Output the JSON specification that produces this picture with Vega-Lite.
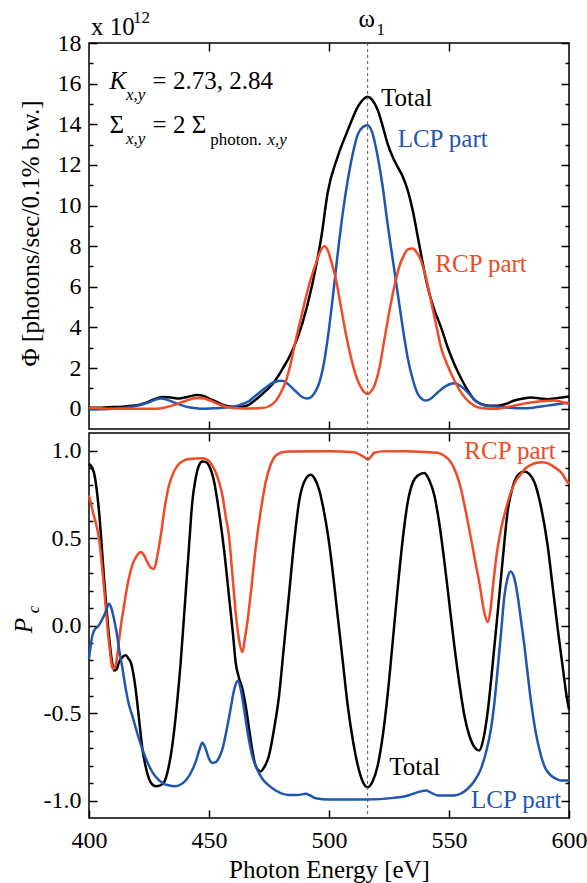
{
  "$schema": "https://vega.github.io/schema/vega-lite/v6.json",
  "padding": {"left": 10, "top": 6, "right": 0, "bottom": 0},
  "background": "white",
  "config": {
    "font": "Liberation Serif",
    "view": {"stroke": "black", "strokeWidth": 1.5},
    "concat": {"spacing": 0},
    "style": {"guide-label": {"font": "Liberation Serif", "fontSize": 24, "fill": "black"}, "guide-title": {"font": "Liberation Serif", "fontSize": 25, "fontWeight": "normal", "fill": "black"}},
    "axis": {"domain": false, "grid": false, "labelFont": "Liberation Serif", "titleFont": "Liberation Serif", "labelFontSize": 24, "titleFontSize": 25, "titleFontWeight": "normal", "labelColor": "black", "titleColor": "black", "tickColor": "black", "tickWidth": 1.5}
  },
  "datasets": {
    "flux": [
      {"s":"Total","e":400,"v":0.05},{"s":"Total","e":405,"v":0.05},{"s":"Total","e":410,"v":0.08},{"s":"Total","e":414,"v":0.1},{"s":"Total","e":418,"v":0.15},{"s":"Total","e":421,"v":0.2},{"s":"Total","e":424,"v":0.3},{"s":"Total","e":427,"v":0.45},{"s":"Total","e":430.6,"v":0.58},{"s":"Total","e":434,"v":0.55},{"s":"Total","e":437.5,"v":0.5},{"s":"Total","e":441,"v":0.58},{"s":"Total","e":445,"v":0.67},{"s":"Total","e":448,"v":0.62},{"s":"Total","e":450,"v":0.5},{"s":"Total","e":453,"v":0.35},{"s":"Total","e":455.6,"v":0.2},{"s":"Total","e":458,"v":0.12},{"s":"Total","e":461,"v":0.08},{"s":"Total","e":464,"v":0.1},{"s":"Total","e":466.7,"v":0.2},{"s":"Total","e":469,"v":0.4},{"s":"Total","e":472,"v":0.7},{"s":"Total","e":476.4,"v":1.2},{"s":"Total","e":480.6,"v":1.95},{"s":"Total","e":484.7,"v":2.85},{"s":"Total","e":488.9,"v":4.2},{"s":"Total","e":493,"v":6.1},{"s":"Total","e":497,"v":8.6},{"s":"Total","e":499.4,"v":10.6},{"s":"Total","e":503.6,"v":12.4},{"s":"Total","e":507.8,"v":13.7},{"s":"Total","e":512,"v":14.86},{"s":"Total","e":514.5,"v":15.25},{"s":"Total","e":516.1,"v":15.35},{"s":"Total","e":518,"v":15.2},{"s":"Total","e":520.3,"v":14.7},{"s":"Total","e":522.4,"v":13.9},{"s":"Total","e":524.4,"v":13.05},{"s":"Total","e":526.5,"v":12.4},{"s":"Total","e":528.6,"v":11.9},{"s":"Total","e":530.8,"v":11.4},{"s":"Total","e":532.8,"v":10.75},{"s":"Total","e":535,"v":9.7},{"s":"Total","e":537,"v":8.45},{"s":"Total","e":539,"v":7.2},{"s":"Total","e":541.1,"v":6.0},{"s":"Total","e":543.5,"v":5.0},{"s":"Total","e":546.7,"v":4.0},{"s":"Total","e":549.5,"v":3.0},{"s":"Total","e":552.2,"v":2.2},{"s":"Total","e":555,"v":1.5},{"s":"Total","e":557.8,"v":0.9},{"s":"Total","e":560.5,"v":0.45},{"s":"Total","e":563.3,"v":0.23},{"s":"Total","e":567,"v":0.15},{"s":"Total","e":570.3,"v":0.15},{"s":"Total","e":574,"v":0.25},{"s":"Total","e":577.2,"v":0.4},{"s":"Total","e":581,"v":0.5},{"s":"Total","e":584.2,"v":0.55},{"s":"Total","e":588,"v":0.5},{"s":"Total","e":591.1,"v":0.47},{"s":"Total","e":595,"v":0.52},{"s":"Total","e":600,"v":0.6},
      {"s":"LCP","e":400,"v":-0.03},{"s":"LCP","e":405,"v":-0.03},{"s":"LCP","e":410,"v":0},{"s":"LCP","e":414,"v":0.03},{"s":"LCP","e":418,"v":0.1},{"s":"LCP","e":421,"v":0.17},{"s":"LCP","e":425,"v":0.32},{"s":"LCP","e":429.9,"v":0.5},{"s":"LCP","e":433,"v":0.42},{"s":"LCP","e":436,"v":0.28},{"s":"LCP","e":439,"v":0.15},{"s":"LCP","e":441.7,"v":0.07},{"s":"LCP","e":445,"v":0.02},{"s":"LCP","e":447,"v":0},{"s":"LCP","e":452,"v":0.02},{"s":"LCP","e":458,"v":0.07},{"s":"LCP","e":462,"v":0.15},{"s":"LCP","e":466.7,"v":0.38},{"s":"LCP","e":470,"v":0.7},{"s":"LCP","e":473.6,"v":1.03},{"s":"LCP","e":477,"v":1.3},{"s":"LCP","e":480.6,"v":1.37},{"s":"LCP","e":483,"v":1.2},{"s":"LCP","e":486,"v":0.87},{"s":"LCP","e":488.5,"v":0.6},{"s":"LCP","e":491,"v":0.5},{"s":"LCP","e":493,"v":0.62},{"s":"LCP","e":494.6,"v":0.9},{"s":"LCP","e":496,"v":1.3},{"s":"LCP","e":497.5,"v":2.0},{"s":"LCP","e":499.4,"v":3.4},{"s":"LCP","e":501.5,"v":5.4},{"s":"LCP","e":503.6,"v":7.6},{"s":"LCP","e":505.7,"v":9.6},{"s":"LCP","e":507.8,"v":11.24},{"s":"LCP","e":510,"v":12.6},{"s":"LCP","e":512,"v":13.5},{"s":"LCP","e":514,"v":13.85},{"s":"LCP","e":516.1,"v":13.95},{"s":"LCP","e":518,"v":13.6},{"s":"LCP","e":520.3,"v":12.4},{"s":"LCP","e":522.4,"v":10.9},{"s":"LCP","e":524.4,"v":9.1},{"s":"LCP","e":526.5,"v":7.4},{"s":"LCP","e":528.6,"v":5.7},{"s":"LCP","e":530.7,"v":4.0},{"s":"LCP","e":532.8,"v":2.5},{"s":"LCP","e":535,"v":1.4},{"s":"LCP","e":537,"v":0.72},{"s":"LCP","e":539,"v":0.45},{"s":"LCP","e":540.4,"v":0.4},{"s":"LCP","e":542.5,"v":0.5},{"s":"LCP","e":545.3,"v":0.8},{"s":"LCP","e":548.5,"v":1.1},{"s":"LCP","e":552.2,"v":1.25},{"s":"LCP","e":555,"v":1.1},{"s":"LCP","e":557.8,"v":0.8},{"s":"LCP","e":560.5,"v":0.45},{"s":"LCP","e":563.3,"v":0.23},{"s":"LCP","e":567,"v":0.12},{"s":"LCP","e":570.3,"v":0.1},{"s":"LCP","e":575,"v":0.05},{"s":"LCP","e":580,"v":0.02},{"s":"LCP","e":585,"v":0.05},{"s":"LCP","e":591,"v":0.15},{"s":"LCP","e":595,"v":0.22},{"s":"LCP","e":600,"v":0.3},
      {"s":"RCP","e":400,"v":0.05},{"s":"RCP","e":405,"v":0.02},{"s":"RCP","e":410,"v":0},{"s":"RCP","e":420,"v":0},{"s":"RCP","e":428,"v":0},{"s":"RCP","e":432,"v":0.07},{"s":"RCP","e":436,"v":0.2},{"s":"RCP","e":440,"v":0.38},{"s":"RCP","e":445,"v":0.53},{"s":"RCP","e":448,"v":0.5},{"s":"RCP","e":451,"v":0.38},{"s":"RCP","e":454,"v":0.22},{"s":"RCP","e":458,"v":0.07},{"s":"RCP","e":462,"v":0.02},{"s":"RCP","e":467,"v":0.01},{"s":"RCP","e":472,"v":0.03},{"s":"RCP","e":475,"v":0.12},{"s":"RCP","e":477.8,"v":0.38},{"s":"RCP","e":480,"v":0.8},{"s":"RCP","e":482,"v":1.35},{"s":"RCP","e":484,"v":2.2},{"s":"RCP","e":486,"v":3.3},{"s":"RCP","e":488,"v":4.3},{"s":"RCP","e":490,"v":5.3},{"s":"RCP","e":492.2,"v":6.3},{"s":"RCP","e":494.4,"v":7.1},{"s":"RCP","e":496.2,"v":7.7},{"s":"RCP","e":498,"v":8.0},{"s":"RCP","e":499.5,"v":7.8},{"s":"RCP","e":500.8,"v":7.3},{"s":"RCP","e":503,"v":6.3},{"s":"RCP","e":505,"v":5.0},{"s":"RCP","e":507,"v":3.7},{"s":"RCP","e":509.2,"v":2.5},{"s":"RCP","e":511.3,"v":1.6},{"s":"RCP","e":513.3,"v":1.05},{"s":"RCP","e":515,"v":0.78},{"s":"RCP","e":516.1,"v":0.72},{"s":"RCP","e":517.5,"v":0.85},{"s":"RCP","e":518.9,"v":1.13},{"s":"RCP","e":521,"v":2.0},{"s":"RCP","e":523,"v":3.35},{"s":"RCP","e":525,"v":4.7},{"s":"RCP","e":527.2,"v":6.0},{"s":"RCP","e":529.3,"v":7.0},{"s":"RCP","e":531.4,"v":7.6},{"s":"RCP","e":533,"v":7.85},{"s":"RCP","e":534.9,"v":7.88},{"s":"RCP","e":536.5,"v":7.7},{"s":"RCP","e":538.3,"v":7.3},{"s":"RCP","e":540.5,"v":6.4},{"s":"RCP","e":542.5,"v":5.3},{"s":"RCP","e":544.5,"v":4.2},{"s":"RCP","e":546.7,"v":3.0},{"s":"RCP","e":549.5,"v":2.1},{"s":"RCP","e":552.2,"v":1.4},{"s":"RCP","e":555,"v":0.8},{"s":"RCP","e":557.8,"v":0.4},{"s":"RCP","e":560.5,"v":0.15},{"s":"RCP","e":563.3,"v":0.03},{"s":"RCP","e":567,"v":0},{"s":"RCP","e":570.3,"v":0},{"s":"RCP","e":574,"v":0.08},{"s":"RCP","e":577.2,"v":0.15},{"s":"RCP","e":581,"v":0.25},{"s":"RCP","e":584.2,"v":0.31},{"s":"RCP","e":589,"v":0.38},{"s":"RCP","e":594,"v":0.4},{"s":"RCP","e":597,"v":0.33},{"s":"RCP","e":600,"v":0.23}
    ],
    "pc": [
      {"s":"Total","e":400,"v":0.924},{"s":"Total","e":402,"v":0.876},{"s":"Total","e":404.2,"v":0.648},{"s":"Total","e":406.3,"v":0.267},{"s":"Total","e":408.3,"v":-0.057},{"s":"Total","e":409.5,"v":-0.2},{"s":"Total","e":410.4,"v":-0.257},{"s":"Total","e":411.5,"v":-0.25},{"s":"Total","e":412.5,"v":-0.21},{"s":"Total","e":414,"v":-0.18},{"s":"Total","e":415.3,"v":-0.17},{"s":"Total","e":416.5,"v":-0.19},{"s":"Total","e":417.4,"v":-0.21},{"s":"Total","e":419,"v":-0.32},{"s":"Total","e":420.1,"v":-0.44},{"s":"Total","e":421.2,"v":-0.58},{"s":"Total","e":422.2,"v":-0.7},{"s":"Total","e":423.5,"v":-0.8},{"s":"Total","e":425,"v":-0.876},{"s":"Total","e":426.5,"v":-0.91},{"s":"Total","e":427.8,"v":-0.918},{"s":"Total","e":429.5,"v":-0.915},{"s":"Total","e":431.3,"v":-0.895},{"s":"Total","e":433,"v":-0.82},{"s":"Total","e":434.7,"v":-0.686},{"s":"Total","e":436.5,"v":-0.47},{"s":"Total","e":438.2,"v":-0.21},{"s":"Total","e":440,"v":0.13},{"s":"Total","e":441.7,"v":0.457},{"s":"Total","e":443,"v":0.7},{"s":"Total","e":444.4,"v":0.838},{"s":"Total","e":446,"v":0.92},{"s":"Total","e":447.2,"v":0.937},{"s":"Total","e":448.5,"v":0.935},{"s":"Total","e":450,"v":0.914},{"s":"Total","e":452,"v":0.83},{"s":"Total","e":454.2,"v":0.648},{"s":"Total","e":456.3,"v":0.43},{"s":"Total","e":458.3,"v":0.171},{"s":"Total","e":460,"v":-0.05},{"s":"Total","e":461.1,"v":-0.21},{"s":"Total","e":462.5,"v":-0.3},{"s":"Total","e":463.9,"v":-0.36},{"s":"Total","e":465.3,"v":-0.46},{"s":"Total","e":466.7,"v":-0.59},{"s":"Total","e":468,"v":-0.71},{"s":"Total","e":469.4,"v":-0.8},{"s":"Total","e":471.5,"v":-0.834},{"s":"Total","e":473,"v":-0.81},{"s":"Total","e":475,"v":-0.743},{"s":"Total","e":477,"v":-0.6},{"s":"Total","e":479.2,"v":-0.4},{"s":"Total","e":481,"v":-0.15},{"s":"Total","e":483.3,"v":0.171},{"s":"Total","e":485.5,"v":0.48},{"s":"Total","e":487.5,"v":0.705},{"s":"Total","e":490,"v":0.83},{"s":"Total","e":492.4,"v":0.861},{"s":"Total","e":494,"v":0.84},{"s":"Total","e":495.8,"v":0.78},{"s":"Total","e":497.5,"v":0.68},{"s":"Total","e":500,"v":0.476},{"s":"Total","e":503.6,"v":0.057},{"s":"Total","e":505.7,"v":-0.2},{"s":"Total","e":507.8,"v":-0.457},{"s":"Total","e":510,"v":-0.66},{"s":"Total","e":512,"v":-0.8},{"s":"Total","e":514,"v":-0.89},{"s":"Total","e":516.1,"v":-0.924},{"s":"Total","e":518.2,"v":-0.89},{"s":"Total","e":520.3,"v":-0.8},{"s":"Total","e":522.4,"v":-0.63},{"s":"Total","e":524.4,"v":-0.4},{"s":"Total","e":526.5,"v":-0.1},{"s":"Total","e":528.6,"v":0.21},{"s":"Total","e":530.7,"v":0.49},{"s":"Total","e":532.8,"v":0.705},{"s":"Total","e":535,"v":0.82},{"s":"Total","e":537,"v":0.857},{"s":"Total","e":539.7,"v":0.872},{"s":"Total","e":541.8,"v":0.83},{"s":"Total","e":543.9,"v":0.743},{"s":"Total","e":546,"v":0.58},{"s":"Total","e":548.1,"v":0.362},{"s":"Total","e":550.2,"v":0.12},{"s":"Total","e":552.2,"v":-0.114},{"s":"Total","e":554.3,"v":-0.33},{"s":"Total","e":556.4,"v":-0.514},{"s":"Total","e":558.5,"v":-0.63},{"s":"Total","e":560.6,"v":-0.695},{"s":"Total","e":562.6,"v":-0.714},{"s":"Total","e":564.3,"v":-0.65},{"s":"Total","e":566.1,"v":-0.495},{"s":"Total","e":568.2,"v":-0.22},{"s":"Total","e":570.3,"v":0.076},{"s":"Total","e":572.4,"v":0.38},{"s":"Total","e":574.4,"v":0.648},{"s":"Total","e":576.5,"v":0.79},{"s":"Total","e":578.6,"v":0.857},{"s":"Total","e":581.4,"v":0.88},{"s":"Total","e":583.5,"v":0.865},{"s":"Total","e":585.6,"v":0.819},{"s":"Total","e":588.3,"v":0.68},{"s":"Total","e":591.1,"v":0.457},{"s":"Total","e":593.2,"v":0.22},{"s":"Total","e":595.3,"v":-0.019},{"s":"Total","e":597.4,"v":-0.24},{"s":"Total","e":599.4,"v":-0.438},{"s":"Total","e":600,"v":-0.48},
      {"s":"RCP","e":400,"v":0.743},{"s":"RCP","e":402,"v":0.629},{"s":"RCP","e":404.2,"v":0.495},{"s":"RCP","e":406.3,"v":0.21},{"s":"RCP","e":408.3,"v":-0.095},{"s":"RCP","e":410,"v":-0.248},{"s":"RCP","e":411,"v":-0.23},{"s":"RCP","e":411.8,"v":-0.17},{"s":"RCP","e":413,"v":-0.03},{"s":"RCP","e":414.6,"v":0.114},{"s":"RCP","e":416.3,"v":0.25},{"s":"RCP","e":418,"v":0.343},{"s":"RCP","e":420,"v":0.4},{"s":"RCP","e":421.5,"v":0.42},{"s":"RCP","e":423,"v":0.4},{"s":"RCP","e":424.3,"v":0.362},{"s":"RCP","e":425.8,"v":0.33},{"s":"RCP","e":427.1,"v":0.324},{"s":"RCP","e":428.5,"v":0.4},{"s":"RCP","e":429.9,"v":0.514},{"s":"RCP","e":431.5,"v":0.67},{"s":"RCP","e":433.3,"v":0.8},{"s":"RCP","e":435.4,"v":0.88},{"s":"RCP","e":437.5,"v":0.924},{"s":"RCP","e":441.7,"v":0.952},{"s":"RCP","e":447.2,"v":0.956},{"s":"RCP","e":449.5,"v":0.945},{"s":"RCP","e":451.4,"v":0.914},{"s":"RCP","e":453.5,"v":0.85},{"s":"RCP","e":455.6,"v":0.743},{"s":"RCP","e":457,"v":0.62},{"s":"RCP","e":458.3,"v":0.514},{"s":"RCP","e":459.7,"v":0.3},{"s":"RCP","e":461.1,"v":0.076},{"s":"RCP","e":462.5,"v":-0.08},{"s":"RCP","e":463.9,"v":-0.152},{"s":"RCP","e":465,"v":-0.07},{"s":"RCP","e":466,"v":0.019},{"s":"RCP","e":467.7,"v":0.22},{"s":"RCP","e":469.4,"v":0.438},{"s":"RCP","e":471.5,"v":0.65},{"s":"RCP","e":473.6,"v":0.819},{"s":"RCP","e":475.7,"v":0.92},{"s":"RCP","e":477.8,"v":0.971},{"s":"RCP","e":480.5,"v":0.99},{"s":"RCP","e":483.3,"v":0.994},{"s":"RCP","e":500,"v":0.996},{"s":"RCP","e":510.6,"v":0.99},{"s":"RCP","e":513,"v":0.975},{"s":"RCP","e":514.7,"v":0.962},{"s":"RCP","e":516.1,"v":0.949},{"s":"RCP","e":517.5,"v":0.965},{"s":"RCP","e":518.9,"v":0.987},{"s":"RCP","e":522,"v":0.995},{"s":"RCP","e":531.4,"v":0.996},{"s":"RCP","e":545.3,"v":0.987},{"s":"RCP","e":548,"v":0.97},{"s":"RCP","e":550.8,"v":0.933},{"s":"RCP","e":553,"v":0.87},{"s":"RCP","e":555,"v":0.78},{"s":"RCP","e":557,"v":0.65},{"s":"RCP","e":559.2,"v":0.495},{"s":"RCP","e":561,"v":0.36},{"s":"RCP","e":562.6,"v":0.248},{"s":"RCP","e":564.7,"v":0.076},{"s":"RCP","e":566.1,"v":0.019},{"s":"RCP","e":567.2,"v":0.08},{"s":"RCP","e":568.2,"v":0.21},{"s":"RCP","e":570,"v":0.42},{"s":"RCP","e":571.7,"v":0.552},{"s":"RCP","e":573.8,"v":0.67},{"s":"RCP","e":575.8,"v":0.762},{"s":"RCP","e":578,"v":0.83},{"s":"RCP","e":580,"v":0.867},{"s":"RCP","e":582,"v":0.9},{"s":"RCP","e":584.2,"v":0.918},{"s":"RCP","e":586.5,"v":0.93},{"s":"RCP","e":589,"v":0.933},{"s":"RCP","e":591.5,"v":0.925},{"s":"RCP","e":593.9,"v":0.905},{"s":"RCP","e":597,"v":0.87},{"s":"RCP","e":599.4,"v":0.819},{"s":"RCP","e":600,"v":0.81},
      {"s":"LCP","e":400,"v":-0.19},{"s":"LCP","e":401.4,"v":-0.057},{"s":"LCP","e":402.5,"v":-0.02},{"s":"LCP","e":403.5,"v":-0.01},{"s":"LCP","e":405.6,"v":0.038},{"s":"LCP","e":407,"v":0.08},{"s":"LCP","e":408.3,"v":0.124},{"s":"LCP","e":409.3,"v":0.1},{"s":"LCP","e":410.4,"v":0.038},{"s":"LCP","e":411.5,"v":-0.04},{"s":"LCP","e":412.5,"v":-0.133},{"s":"LCP","e":414,"v":-0.25},{"s":"LCP","e":415.3,"v":-0.362},{"s":"LCP","e":416.6,"v":-0.45},{"s":"LCP","e":418,"v":-0.514},{"s":"LCP","e":420,"v":-0.61},{"s":"LCP","e":422.2,"v":-0.705},{"s":"LCP","e":424.3,"v":-0.78},{"s":"LCP","e":426.4,"v":-0.838},{"s":"LCP","e":428.5,"v":-0.875},{"s":"LCP","e":430.6,"v":-0.9},{"s":"LCP","e":433,"v":-0.913},{"s":"LCP","e":436.1,"v":-0.918},{"s":"LCP","e":438,"v":-0.91},{"s":"LCP","e":440.3,"v":-0.886},{"s":"LCP","e":442.5,"v":-0.84},{"s":"LCP","e":444.4,"v":-0.781},{"s":"LCP","e":446,"v":-0.71},{"s":"LCP","e":447.2,"v":-0.67},{"s":"LCP","e":448.5,"v":-0.7},{"s":"LCP","e":450,"v":-0.762},{"s":"LCP","e":451.5,"v":-0.785},{"s":"LCP","e":452.8,"v":-0.781},{"s":"LCP","e":454.2,"v":-0.755},{"s":"LCP","e":455.6,"v":-0.705},{"s":"LCP","e":457.3,"v":-0.6},{"s":"LCP","e":459,"v":-0.476},{"s":"LCP","e":460.6,"v":-0.36},{"s":"LCP","e":462.1,"v":-0.314},{"s":"LCP","e":463.3,"v":-0.37},{"s":"LCP","e":464.6,"v":-0.476},{"s":"LCP","e":466.2,"v":-0.62},{"s":"LCP","e":468,"v":-0.743},{"s":"LCP","e":470,"v":-0.82},{"s":"LCP","e":472.2,"v":-0.876},{"s":"LCP","e":475,"v":-0.915},{"s":"LCP","e":477.8,"v":-0.943},{"s":"LCP","e":483.3,"v":-0.968},{"s":"LCP","e":487,"v":-0.968},{"s":"LCP","e":490.3,"v":-0.962},{"s":"LCP","e":492,"v":-0.97},{"s":"LCP","e":494.4,"v":-0.987},{"s":"LCP","e":500,"v":-0.994},{"s":"LCP","e":516.1,"v":-0.994},{"s":"LCP","e":527,"v":-0.985},{"s":"LCP","e":531.4,"v":-0.977},{"s":"LCP","e":535,"v":-0.962},{"s":"LCP","e":537,"v":-0.952},{"s":"LCP","e":540.4,"v":-0.943},{"s":"LCP","e":542.5,"v":-0.955},{"s":"LCP","e":545.3,"v":-0.971},{"s":"LCP","e":552.2,"v":-0.971},{"s":"LCP","e":555,"v":-0.96},{"s":"LCP","e":557.8,"v":-0.933},{"s":"LCP","e":560.5,"v":-0.89},{"s":"LCP","e":563.3,"v":-0.819},{"s":"LCP","e":565.5,"v":-0.72},{"s":"LCP","e":567.5,"v":-0.59},{"s":"LCP","e":569,"v":-0.43},{"s":"LCP","e":570.3,"v":-0.248},{"s":"LCP","e":571.7,"v":-0.04},{"s":"LCP","e":573.1,"v":0.171},{"s":"LCP","e":574.4,"v":0.27},{"s":"LCP","e":575.6,"v":0.309},{"s":"LCP","e":577,"v":0.28},{"s":"LCP","e":578.6,"v":0.171},{"s":"LCP","e":580,"v":0.03},{"s":"LCP","e":581.4,"v":-0.114},{"s":"LCP","e":582.8,"v":-0.28},{"s":"LCP","e":584.2,"v":-0.438},{"s":"LCP","e":586,"v":-0.6},{"s":"LCP","e":588.3,"v":-0.743},{"s":"LCP","e":590.3,"v":-0.82},{"s":"LCP","e":592.5,"v":-0.857},{"s":"LCP","e":594.5,"v":-0.875},{"s":"LCP","e":596.7,"v":-0.886},{"s":"LCP","e":600,"v":-0.886}
    ]
  },
  "vconcat": [
    {
      "width": 480,
      "height": 386,
      "resolve": {"axis": {"x": "independent", "y": "independent"}},
      "layer": [
        {
          "data": {"name": "flux"},
          "mark": {"type": "line", "strokeWidth": 2.5, "interpolate": "monotone"},
          "encoding": {
            "x": {"field": "e", "type": "quantitative", "scale": {"domain": [400, 600], "nice": false, "zero": false},
                  "axis": {"orient": "bottom", "values": [450, 500, 550], "labels": false, "title": null, "tickSize": -8}},
            "y": {"field": "v", "type": "quantitative", "scale": {"domain": [-1, 18], "nice": false, "zero": false},
                  "axis": {"orient": "left", "values": [0,1,2,3,4,5,6,7,8,9,10,11,12,13,14,15,16,17,18],
                           "labelExpr": "datum.value % 2 === 0 ? datum.label : ''",
                           "tickSize": {"condition": {"test": "datum.value % 2 === 0", "value": -8}, "value": -4},
                           "labelFont": "Liberation Serif", "titleFont": "Liberation Serif",
                           "labelPadding": 16, "title": "Φ [photons/sec/0.1% b.w.]", "titleAngle": 270, "titleAlign": "center", "titleBaseline": "alphabetic", "titleX": -51, "titleY": 190}},
            "color": {"field": "s", "type": "nominal", "scale": {"domain": ["Total", "LCP", "RCP"], "range": ["#000000", "#1f56b0", "#f04a26"]}, "legend": null}
          }
        },
        {
          "data": {"values": [{"e": 516.1}]},
          "mark": {"type": "rule", "strokeDash": [3, 3], "strokeWidth": 1, "color": "#555555"},
          "encoding": {"x": {"field": "e", "type": "quantitative", "axis": null}}
        },
        {
          "data": {"values": [
            {"e": 521.7, "v": 14.9, "t": "Total", "s": "Total"},
            {"e": 528.6, "v": 12.9, "t": "LCP part", "s": "LCP"},
            {"e": 544.3, "v": 6.72, "t": "RCP part", "s": "RCP"}
          ]},
          "mark": {"type": "text", "align": "left", "baseline": "alphabetic", "fontSize": 25, "font": "Liberation Serif"},
          "encoding": {
            "x": {"field": "e", "type": "quantitative", "axis": {"orient": "top", "values": [450, 500, 550], "labels": false, "title": null, "tickSize": -8}},
            "y": {"field": "v", "type": "quantitative", "axis": {"orient": "right", "values": [0,1,2,3,4,5,6,7,8,9,10,11,12,13,14,15,16,17,18], "labels": false, "title": null,
                  "tickSize": {"condition": {"test": "datum.value % 2 === 0", "value": -8}, "value": -4}}},
            "text": {"field": "t"},
            "color": {"field": "s", "type": "nominal", "legend": null}
          }
        },
        {
          "data": {"values": [
            {"e": 426.5, "v": 15.72, "t": "= 2.73, 2.84"},
            {"e": 408.5, "v": 13.58, "t": "Σ"},
            {"e": 426.5, "v": 13.58, "t": "= 2 Σ"},
            {"e": 400.8, "v": 18.39, "t": "x 10"},
            {"e": 512.3, "v": 18.79, "t": "ω"}
          ]},
          "mark": {"type": "text", "align": "left", "baseline": "alphabetic", "fontSize": 25, "font": "Liberation Serif", "color": "black"},
          "encoding": {"x": {"field": "e", "type": "quantitative", "axis": null}, "y": {"field": "v", "type": "quantitative", "axis": null}, "text": {"field": "t"}}
        },
        {
          "data": {"values": [{"e": 408.5, "v": 15.72, "t": "K"}]},
          "mark": {"type": "text", "align": "left", "baseline": "alphabetic", "fontSize": 25, "fontStyle": "italic", "font": "Liberation Serif", "color": "black"},
          "encoding": {"x": {"field": "e", "type": "quantitative", "axis": null}, "y": {"field": "v", "type": "quantitative", "axis": null}, "text": {"field": "t"}}
        },
        {
          "data": {"values": [
            {"e": 415.4, "v": 15.19, "t": "x,y"},
            {"e": 415.4, "v": 13.05, "t": "x,y"},
            {"e": 474.4, "v": 12.97, "t": "x,y"}
          ]},
          "mark": {"type": "text", "align": "left", "baseline": "alphabetic", "fontSize": 17, "fontStyle": "italic", "font": "Liberation Serif", "color": "black"},
          "encoding": {"x": {"field": "e", "type": "quantitative", "axis": null}, "y": {"field": "v", "type": "quantitative", "axis": null}, "text": {"field": "t"}}
        },
        {
          "data": {"values": [
            {"e": 450.5, "v": 12.97, "t": "photon."},
            {"e": 418.3, "v": 18.98, "t": "12"},
            {"e": 519.8, "v": 18.39, "t": "1"}
          ]},
          "mark": {"type": "text", "align": "left", "baseline": "alphabetic", "fontSize": 17, "font": "Liberation Serif", "color": "black"},
          "encoding": {"x": {"field": "e", "type": "quantitative", "axis": null}, "y": {"field": "v", "type": "quantitative", "axis": null}, "text": {"field": "t"}}
        }
      ]
    },
    {
      "width": 480,
      "height": 385,
      "resolve": {"axis": {"x": "independent", "y": "independent"}},
      "layer": [
        {
          "data": {"name": "pc"},
          "mark": {"type": "line", "strokeWidth": 2.5, "interpolate": "monotone"},
          "encoding": {
            "x": {"field": "e", "type": "quantitative", "scale": {"domain": [400, 600], "nice": false, "zero": false},
                  "axis": {"orient": "bottom", "values": [400, 450, 500, 550, 600], "tickSize": -8, "labelPadding": 18, "labelFlush": false,
                           "labelFont": "Liberation Serif", "titleFont": "Liberation Serif",
                           "title": "Photon Energy [eV]", "titleFontSize": 25, "titleBaseline": "alphabetic", "titleY": 59}},
            "y": {"field": "v", "type": "quantitative", "scale": {"domain": [-1.1, 1.1], "nice": false, "zero": false},
                  "axis": {"orient": "left", "values": [-1,-0.9,-0.8,-0.7,-0.6,-0.5,-0.4,-0.3,-0.2,-0.1,0,0.1,0.2,0.3,0.4,0.5,0.6,0.7,0.8,0.9,1],
                           "labelExpr": "abs(datum.value*2 - round(datum.value*2)) < 0.001 ? replace(format(datum.value, '.1f'), '\u2212', '-') : ''",
                           "tickSize": {"condition": {"test": "abs(datum.value*2 - round(datum.value*2)) < 0.001", "value": -8}, "value": -4},
                           "labelFont": "Liberation Serif", "titleFont": "Liberation Serif",
                           "labelPadding": 16, "title": "P", "titleFontStyle": "italic", "titleAngle": 270, "titleAlign": "center", "titleBaseline": "alphabetic", "titleX": -58, "titleY": 192}},
            "color": {"field": "s", "type": "nominal", "scale": {"domain": ["Total", "LCP", "RCP"], "range": ["#000000", "#1f56b0", "#f04a26"]}, "legend": null}
          }
        },
        {
          "data": {"values": [{"e": 516.1}]},
          "mark": {"type": "rule", "strokeDash": [3, 3], "strokeWidth": 1, "color": "#555555"},
          "encoding": {"x": {"field": "e", "type": "quantitative", "axis": null}}
        },
        {
          "data": {"values": [
            {"e": 525.1, "v": -0.855, "t": "Total", "s": "Total"},
            {"e": 559.2, "v": -1.04, "t": "LCP part", "s": "LCP"}
          ]},
          "mark": {"type": "text", "align": "left", "baseline": "alphabetic", "fontSize": 25, "font": "Liberation Serif"},
          "encoding": {
            "x": {"field": "e", "type": "quantitative", "axis": {"orient": "top", "values": [450, 500, 550], "labels": false, "title": null, "tickSize": -8}},
            "y": {"field": "v", "type": "quantitative", "axis": {"orient": "right", "values": [-1,-0.9,-0.8,-0.7,-0.6,-0.5,-0.4,-0.3,-0.2,-0.1,0,0.1,0.2,0.3,0.4,0.5,0.6,0.7,0.8,0.9,1], "labels": false, "title": null,
                  "tickSize": {"condition": {"test": "abs(datum.value*2 - round(datum.value*2)) < 0.001", "value": -8}, "value": -4}}},
            "text": {"field": "t"},
            "color": {"field": "s", "type": "nominal", "legend": null}
          }
        },
        {
          "data": {"values": [{"e": 556.4, "v": 0.95, "t": "RCP part", "s": "RCP"}]},
          "mark": {"type": "text", "align": "left", "baseline": "alphabetic", "fontSize": 25, "font": "Liberation Serif"},
          "encoding": {
            "x": {"field": "e", "type": "quantitative", "axis": null},
            "y": {"field": "v", "type": "quantitative", "axis": {"orient": "left", "labels": false, "ticks": false, "domain": false, "titleFont": "Liberation Serif", "title": "c", "titleFontSize": 17, "titleFontStyle": "italic", "titleAngle": 270, "titleAlign": "center", "titleBaseline": "alphabetic", "titleX": -51, "titleY": 176}},
            "text": {"field": "t"},
            "color": {"field": "s", "type": "nominal", "legend": null}
          }
        }
      ]
    }
  ]
}
